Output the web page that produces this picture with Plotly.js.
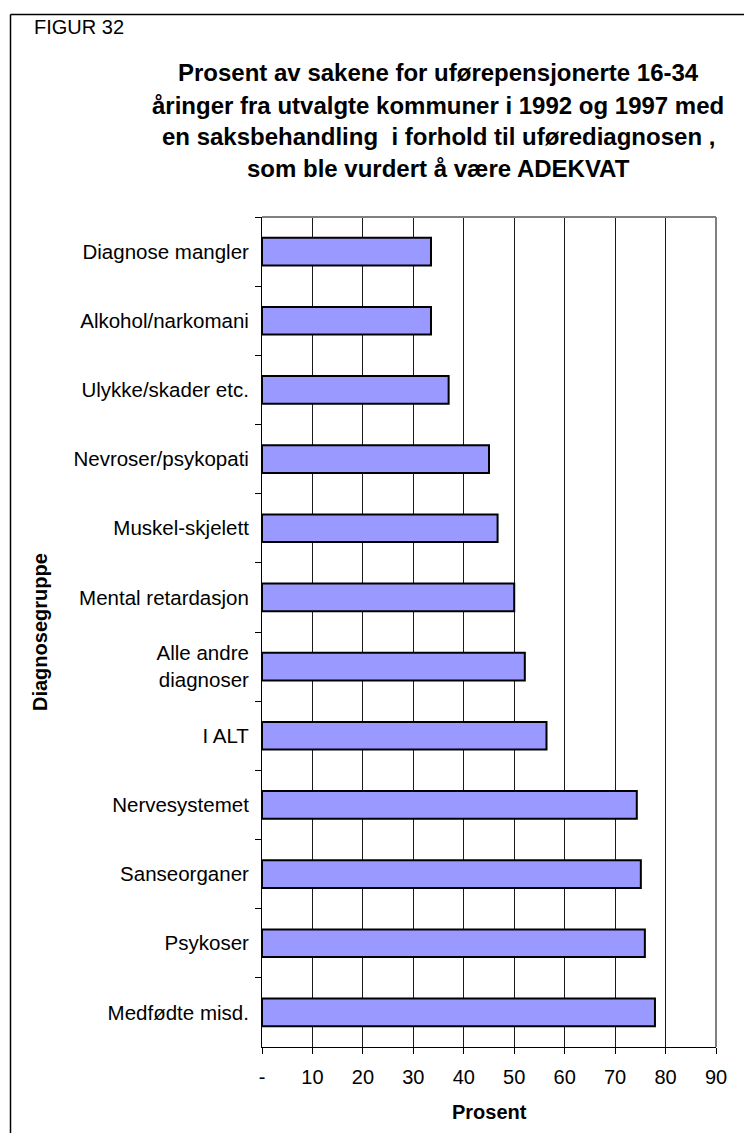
<!DOCTYPE html>
<html>
<head>
<meta charset="utf-8">
<script src="https://cdn.plot.ly/plotly-3.0.1.min.js"></script>
<style>
  html, body { margin: 0; padding: 0; background: #fff; }
  #chart { width: 744px; height: 1133px; }
</style>
</head>
<body>
<div id="chart"></div>
<script>
// Diagnosis groups, listed top to bottom
const categories = [
  'Diagnose mangler',
  'Alkohol/narkomani',
  'Ulykke/skader etc.',
  'Nevroser/psykopati',
  'Muskel-skjelett',
  'Mental retardasjon',
  'Alle andre<br>diagnoser',
  'I ALT',
  'Nervesystemet',
  'Sanseorganer',
  'Psykoser',
  'Medfødte misd.'
];

// Share of cases judged adequate (percent)
const adequatePct = [33.5, 33.5, 37.0, 45.0, 46.7, 50.0, 52.1, 56.4, 74.3, 75.1, 75.9, 77.9];

// Value-axis ticks
const xTickVals = [0, 10, 20, 30, 40, 50, 60, 70, 80, 90];
const xTickText = ['-', '10', '20', '30', '40', '50', '60', '70', '80', '90'];

const figureLabel = 'FIGUR 32';
const titleLines = [
  'Prosent av sakene for uførepensjonerte 16-34',
  'åringer fra utvalgte kommuner i 1992 og 1997 med',
  'en saksbehandling  i forhold til uførediagnosen ,',
  'som ble vurdert å være ADEKVAT'
];
const xTitle = 'Prosent';
const yTitle = 'Diagnosegruppe';

const FONT = 'Liberation Sans, Arial, sans-serif';

// pixel geometry of the plotting area
const W = 744, H = 1133;
const M = { l: 262, r: 28, t: 217, b: 86 };
const pw = W - M.l - M.r, ph = H - M.t - M.b;
const px = x => (x - M.l) / pw;           // page x -> paper x
const py = y => (H - M.b - y) / ph;       // page y -> paper y

const titleY = [72, 105, 137, 168];
const annotations = titleLines.map((t, i) => ({
  text: '<b>' + t + '</b>',
  xref: 'paper', yref: 'paper',
  x: px(438), y: py(titleY[i]),
  xanchor: 'center', yanchor: 'middle',
  showarrow: false,
  font: { family: FONT, size: 24, color: '#000' }
}));

annotations.push({
  text: figureLabel,
  xref: 'paper', yref: 'paper',
  x: px(32), y: py(27),
  xanchor: 'left', yanchor: 'middle',
  showarrow: false,
  font: { family: FONT, size: 20, color: '#000' }
});

annotations.push({
  text: '<b>' + yTitle + '</b>',
  xref: 'paper', yref: 'paper',
  x: px(40), y: 0.5,
  xanchor: 'center', yanchor: 'middle',
  textangle: -90,
  showarrow: false,
  font: { family: FONT, size: 20, color: '#000' }
});

annotations.push({
  text: '<b>' + xTitle + '</b>',
  xref: 'paper', yref: 'paper',
  x: 0.5, y: py(1112),
  xanchor: 'center', yanchor: 'middle',
  showarrow: false,
  font: { family: FONT, size: 20, color: '#000' }
});

const trace = {
  type: 'bar',
  orientation: 'h',
  x: adequatePct,
  y: categories,
  width: 0.4,
  marker: {
    color: '#9999FF',
    line: { color: '#000', width: 2 }
  },
  hoverinfo: 'x+y'
};

const layout = {
  width: W, height: H,
  margin: M,
  paper_bgcolor: '#fff',
  plot_bgcolor: '#fff',
  showlegend: false,
  font: { family: FONT, size: 20, color: '#000' },
  xaxis: {
    range: [0, 90],
    tickmode: 'array',
    tickvals: xTickVals,
    ticktext: xTickText,
    ticks: 'outside', ticklen: 6, tickwidth: 1, tickcolor: '#000',
    ticklabelstandoff: 6,
    showgrid: true, gridcolor: '#1a1a1a', gridwidth: 1,
    zeroline: false,
    showline: true, linecolor: '#000', linewidth: 1,
    tickfont: { family: FONT, size: 20, color: '#000' },
    fixedrange: true
  },
  yaxis: {
    type: 'category',
    autorange: 'reversed',
    tickson: 'boundaries',
    ticks: 'outside', ticklen: 6, tickwidth: 1, tickcolor: '#000',
    ticklabelstandoff: 8,
    showgrid: false,
    zeroline: false,
    showline: true, linecolor: '#000', linewidth: 1,
    tickfont: { family: FONT, size: 20.5, color: '#000' },
    fixedrange: true
  },
  shapes: [
    // grey plot-area border (top and right)
    { type: 'line', xref: 'paper', yref: 'paper', x0: 0, x1: 1, y0: 1, y1: 1,
      line: { color: '#808080', width: 2 } },
    { type: 'line', xref: 'paper', yref: 'paper', x0: 1, x1: 1, y0: 0, y1: 1,
      line: { color: '#808080', width: 2 } },
    // outer figure frame
    { type: 'line', xref: 'paper', yref: 'paper', x0: px(10.5), x1: px(W + 10), y0: py(14.5), y1: py(14.5),
      line: { color: '#000', width: 1.5 } },
    { type: 'line', xref: 'paper', yref: 'paper', x0: px(10.5), x1: px(10.5), y0: py(14.5), y1: py(H + 10),
      line: { color: '#000', width: 1.5 } }
  ],
  annotations: annotations
};

Plotly.newPlot('chart', [trace], layout, { displayModeBar: false, responsive: false, staticPlot: true });
</script>
</body>
</html>
